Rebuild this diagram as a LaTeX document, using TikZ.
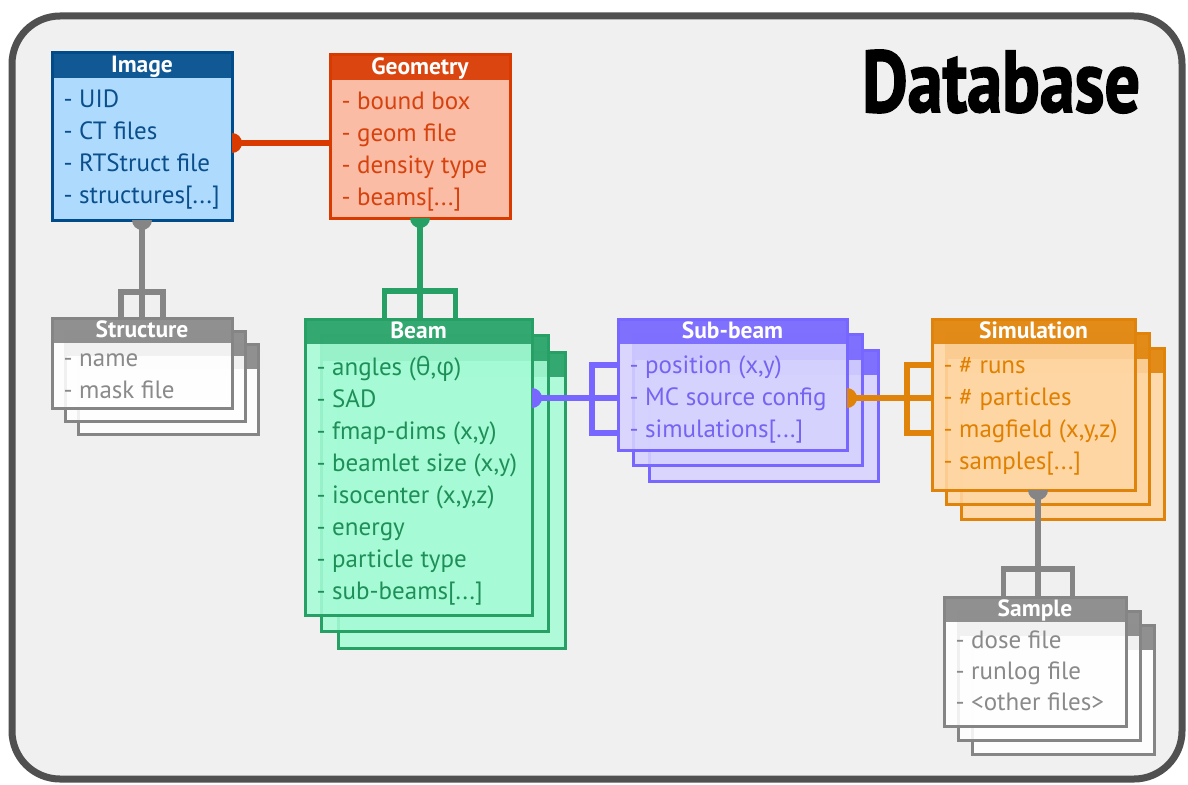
\documentclass[tikz,border=0pt]{standalone}
\usepackage{fontspec}
\setmainfont{PT Sans}
\newfontfamily\dbfont{PT Sans}[BoldFeatures={FakeBold=2}]
\newfontfamily\grk{Open Sans}
\usetikzlibrary{calc}

\definecolor{bg}{HTML}{F0F0F0}
\definecolor{frameC}{HTML}{505050}
\definecolor{imgH}{HTML}{004C8A}
\definecolor{imgB}{HTML}{A4D8FF}
\definecolor{imgT}{HTML}{0B4E8C}
\definecolor{geoH}{HTML}{D83A00}
\definecolor{geoB}{HTML}{FDB59B}
\definecolor{geoT}{HTML}{D6420E}
\definecolor{strH}{HTML}{858585}
\definecolor{strB}{HTML}{FFFFFF}
\definecolor{strT}{HTML}{8A8A8A}
\definecolor{beamH}{HTML}{27A066}
\definecolor{beamB}{HTML}{A6FCD6}
\definecolor{beamT}{HTML}{1F8F58}
\definecolor{subH}{HTML}{7766FF}
\definecolor{subB}{HTML}{D6D2FF}
\definecolor{subT}{HTML}{7564F2}
\definecolor{simH}{HTML}{E0830A}
\definecolor{simB}{HTML}{FFD6A3}
\definecolor{simT}{HTML}{E08000}

\tikzset{
  card/.style={anchor=north west, inner sep=0pt, outer sep=0pt, line width=3pt, fill opacity=0.88},
  cardtitle/.style={anchor=base, text=white, font=\bfseries\fontsize{23.5}{23.5}\selectfont},
  item/.style={anchor=base west, font=\fontsize{25}{25}\selectfont},
  link/.style={line width=5.5pt, line cap=butt, line join=miter},
}

% list ellipsis
\newcommand\ddd{...}
% header band height, first baseline offset and line pitch of the item lists
\def\hdrh{25}
\def\firstbase{54}
\def\pitch{32}

% one card: name, x, y, width, height, colour prefix
\newcommand\onecard[6]{%
  \node[card, draw=#6H, fill=#6B, minimum width=#4, minimum height=#5] (#1) at (#2,#3) {};
  \fill[#6H, fill opacity=0.9] (#1.north west) rectangle ++(#4,\hdrh);
}
% card contents: name, title, colour prefix, items
\newcommand\cardtext[4]{%
  \node[cardtitle] (#1-title) at ($(#1.north)+(0,19.5)$) {#2};
  \foreach [count=\i] \t in {#4}
    \node[item, text=#3T] (#1-item\i) at ($(#1.north west)+(8,\firstbase+\pitch*\i-\pitch)$) {- \t};
}
% stack of three cards: name, x, y, width, height, offset, colour prefix
\newcommand\cardstack[7]{%
  \foreach \k in {2,1}{%
    \onecard{#1-\k}{#2+\k*#6}{#3+\k*#6}{#4}{#5}{#7}
  }
  \onecard{#1}{#2}{#3}{#4}{#5}{#7}
}
% half dots where a link leaves a card
\newcommand\dotright[2]{\fill[#1] (#2) ++(0,-10) arc[start angle=-90, end angle=90, radius=10] -- cycle;}
\newcommand\dotdown[2]{\fill[#1] (#2) ++(-10,0) arc[start angle=180, end angle=0, radius=10] -- cycle;}

\begin{document}
\begin{tikzpicture}[x=1pt,y=-1pt]
\useasboundingbox (0,0) rectangle (1188,784);
\fill[white] (0,0) rectangle (1188,784);
\draw[line width=7pt, draw=frameC, fill=bg, rounded corners=48pt] (12,16) rectangle (1182,779);

\node[anchor=base west, inner sep=0pt] (dbtitle) at (862,112) {\resizebox{278pt}{62pt}{\dbfont\bfseries Database}};

% cards
\onecard{image}{52}{53}{180}{167}{img}
\cardtext{image}{Image}{img}{UID, CT files, RTStruct file, structures[\ddd]}

\onecard{geometry}{330}{55}{180}{163}{geo}
\cardtext{geometry}{Geometry}{geo}{bound box, geom file, density type, beams[\ddd]}

\cardstack{structure}{52}{318}{180}{90}{13}{str}
\def\firstbase{48}
\cardtext{structure}{Structure}{str}{name, mask file}

\cardstack{beam}{305}{319}{227}{296}{16.5}{beam}
\def\firstbase{56}
\cardtext{beam}{Beam}{beam}{{angles ({\grk θ},{\grk φ})}, SAD, {fmap-dims (x,y)}, {beamlet size (x,y)}, {isocenter (x,y,z)}, energy, particle type, sub-beams[\ddd]}

\cardstack{subbeam}{618}{319}{229}{131}{15.5}{sub}
\def\firstbase{54}
\cardtext{subbeam}{Sub-beam}{sub}{{position (x,y)}, MC source config, simulations[\ddd]}

\cardstack{simulation}{932}{319}{203}{171}{14.5}{sim}
\cardtext{simulation}{Simulation}{sim}{\# runs, \# particles, {magfield (x,y,z)}, samples[\ddd]}

\cardstack{sample}{944}{597}{182}{129}{14}{str}
\def\firstbase{51}
\def\pitch{31}
\cardtext{sample}{Sample}{str}{dose file, runlog file, <other files>}

% image -- geometry
\coordinate (ig) at ($(image.east)+(0,6.5)$);
\draw[link, geoH] (ig) -- (ig -| geometry.west);
\dotright{geoH}{ig}

% image -- structures
\draw[link, strH] (image.south) -- (structure.north);
\draw[link, strH] ($(structure.north)+(-21,0)$) |- ($(structure.north)+(0,-26)$) -| ($(structure.north)+(21,0)$);
\dotdown{strH}{image.south}

% geometry -- beams
\draw[link, beamH] (geometry.south) -- (geometry.south |- beam.north) coordinate (gbt);
\draw[link, beamH] ($(gbt)+(-35.5,0)$) |- ($(gbt)+(0,-28)$) -| ($(gbt)+(35.5,0)$);
\dotdown{beamH}{geometry.south}

% beam -- sub-beams
\coordinate (bs) at ($(beam.north east)+(0,79)$);
\draw[link, subH] (bs) -- (bs -| subbeam.west);
\draw[link, subH] ($(subbeam.north west)+(0,46)$) -| ($(subbeam.north west)+(-26,80)$) |- ($(subbeam.north west)+(0,114)$);
\dotright{subH}{bs}

% sub-beam -- simulations
\coordinate (ss) at ($(subbeam.north east)+(0,79)$);
\draw[link, simH] (ss) -- (ss -| simulation.west);
\draw[link, simH] ($(simulation.north west)+(0,46)$) -| ($(simulation.north west)+(-25,80)$) |- ($(simulation.north west)+(0,114)$);
\dotright{simH}{ss}

% simulation -- samples
\coordinate (sp) at ($(sample.north)+(3,0)$);
\draw[link, strH] (sp |- simulation.south) -- (sp);
\draw[link, strH] ($(sp)+(-34.5,0)$) |- ($(sp)+(0,-28)$) -| ($(sp)+(34.5,0)$);
\dotdown{strH}{sp |- simulation.south}
\end{tikzpicture}
\end{document}
